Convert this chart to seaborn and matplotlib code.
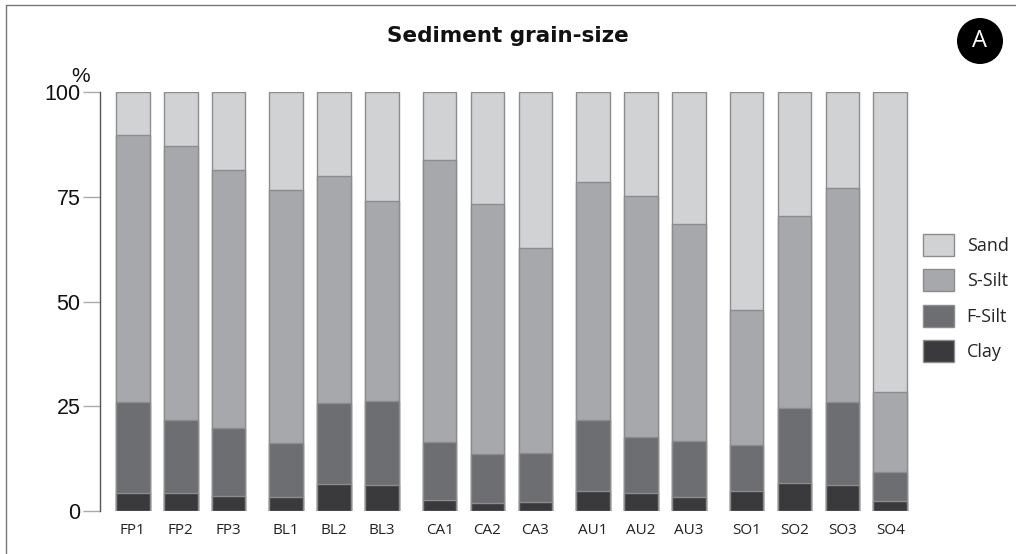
import numpy as np
import pandas as pd
import matplotlib
matplotlib.use("Agg")
import matplotlib.pyplot as plt
import seaborn as sns
from matplotlib.patches import Ellipse, Patch
from matplotlib.lines import Line2D

sns.set_theme(style="white")
plt.rcParams['font.family'] = ['Liberation Sans', 'DejaVu Sans']

# sample names and site groups
samples = ['FP1', 'FP2', 'FP3', 'BL1', 'BL2', 'BL3', 'CA1', 'CA2', 'CA3',
           'AU1', 'AU2', 'AU3', 'SO1', 'SO2', 'SO3', 'SO4']
groups = ['FP', 'FP', 'FP', 'BL', 'BL', 'BL', 'CA', 'CA', 'CA',
          'AU', 'AU', 'AU', 'SO', 'SO', 'SO', 'SO']

# grain-size fractions (%)
clay = [4.3, 4.3, 3.6, 3.3, 6.4, 6.2, 2.6, 2.0, 2.1, 4.8, 4.2, 3.4, 4.8, 6.7, 6.3, 2.4]
f_silt = [21.6, 17.4, 16.2, 13.0, 19.4, 20.0, 13.8, 11.5, 11.7, 16.9, 13.4, 13.2, 10.9, 18.0, 19.7, 6.8]
s_silt = [63.8, 65.3, 61.5, 60.2, 54.1, 47.8, 67.4, 59.8, 48.9, 56.9, 57.6, 52.0, 32.2, 45.8, 51.1, 19.1]
sand = [10.3, 13.0, 18.7, 23.5, 20.1, 26.0, 16.2, 26.7, 37.3, 21.4, 24.8, 31.4, 52.1, 29.5, 22.9, 71.7]

fractions = ['Clay', 'F-Silt', 'S-Silt', 'Sand']
colors = {'Clay': '#3a3a3c', 'F-Silt': '#6d6e71', 'S-Silt': '#a7a8ab', 'Sand': '#d1d2d4'}

df = pd.DataFrame({'sample': samples, 'group': groups, 'Clay': clay,
                   'F-Silt': f_silt, 'S-Silt': s_silt, 'Sand': sand})
# position = sample index + small extra gap between sites
group_idx = pd.factorize(df['group'])[0]
df['pos'] = np.arange(len(df)) + 0.2 * group_idx

# cumulative tops for stacking
tops = df[fractions].cumsum(axis=1)

fig = plt.figure(figsize=(10.16, 5.54), dpi=100)
ax = fig.add_axes([100 / 1016, 43 / 554, 812 / 1016, 419 / 554])

for frac in reversed(fractions):
    sns.barplot(x=df['pos'], y=tops[frac], native_scale=True, width=0.7,
                color=colors[frac], edgecolor='#8c8c8e', linewidth=1,
                saturation=1, ax=ax)

px = 47.9
ax.set_xlim(-0.35 - 16 / px, df['pos'].iloc[-1] + 0.35 + 5 / px)
ax.set_ylim(0, 100)
ax.set_yticks([0, 25, 50, 75, 100])
ax.set_yticklabels(['0', '25', '50', '75', '100'], fontsize=15.5, color='#111111')
ax.set_xticks(df['pos'])
ax.set_xticklabels(samples, fontsize=11, family=['Open Sans', 'DejaVu Sans'], color='#222222')
ax.set_xlabel('')
ax.set_ylabel('')
ax.tick_params(axis='y', length=12, width=1, color='#aaaaaa', pad=2, left=True)
ax.tick_params(axis='x', length=0, pad=9)
for s in ['top', 'right', 'bottom']:
    ax.spines[s].set_visible(False)
ax.spines['left'].set_color('#555555')
ax.spines['left'].set_linewidth(1)

ax.text(-0.35 - 16 / px - 0.22, 101.5, '%', fontsize=15, ha='right', va='bottom',
        color='#111111')

fig.text(0.5, 0.935, 'Sediment grain-size', fontsize=15.5, fontweight='bold',
         family='DejaVu Sans', ha='center', va='center', color='#111111')

handles = [Patch(facecolor=colors[f], edgecolor='#8c8c8e', label=f)
           for f in reversed(fractions)]
fig.legend(handles=handles, loc='center left', bbox_to_anchor=(907 / 1016, 1 - 298 / 554),
           frameon=False, prop={'family': 'Open Sans', 'size': 13},
           handlelength=1.7, handleheight=1.5, labelspacing=0.75, handletextpad=0.7)

# panel label
fig.add_artist(Ellipse((980 / 1016, 1 - 41 / 554), 46 / 1016, 46 / 554,
                       transform=fig.transFigure, facecolor='black', edgecolor='none'))
fig.text(980 / 1016, 1 - 41 / 554, 'A', color='white', fontsize=17,
         family='Open Sans', ha='center', va='center')

# frame lines at top and left
fig.add_artist(Line2D([6 / 1016, 1], [1 - 5 / 554, 1 - 5 / 554], transform=fig.transFigure,
                      color='#777777', linewidth=1))
fig.add_artist(Line2D([6 / 1016, 6 / 1016], [0, 1 - 5 / 554], transform=fig.transFigure,
                      color='#777777', linewidth=1))

fig.savefig('out.png', dpi=100)
